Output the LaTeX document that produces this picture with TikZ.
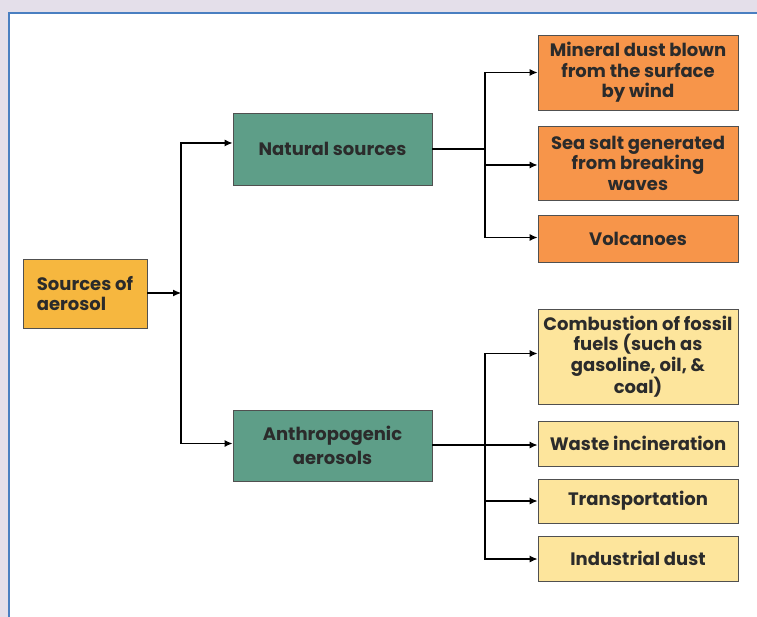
\documentclass[tikz,border=0pt]{standalone}
\usepackage{fontspec}
\setmainfont{Poppins}
\usetikzlibrary{arrows.meta}
\definecolor{bgl}{HTML}{E4DFEA}
\definecolor{frame}{HTML}{4A7FC1}
\definecolor{srcfill}{HTML}{F6B73F}
\definecolor{grn}{HTML}{5E9E88}
\definecolor{org}{HTML}{F7954A}
\definecolor{ylw}{HTML}{FDE59C}
\definecolor{edge}{HTML}{505050}
\definecolor{txt}{HTML}{2B2B2B}
\tikzset{
  box/.style={draw=edge, line width=0.9pt, rectangle, inner sep=2pt,
    font=\fontsize{18}{20.5}\selectfont\bfseries, text=txt, align=center},
  link/.style={line width=1.1pt, draw=black},
  arr/.style={link, -{Latex[length=8pt,width=7pt]}}
}
\begin{document}
\begin{tikzpicture}[x=1pt, y=-1pt]
  % page background and white panel
  \useasboundingbox (0,0) rectangle (757,617);
  \fill[bgl] (0,0) rectangle (757,617);
  \fill[white] (9,13) rectangle (770,630);
  \draw[frame, line width=2pt] (9,630) -- (9,13) -- (770,13);

  % root
  \node[box, fill=srcfill, minimum width=124pt, minimum height=69pt,
        align=left] (src) at (85,293.5) {Sources of\\aerosol};

  % main groups
  \node[box, fill=grn, minimum width=199pt, minimum height=72pt] (nat) at (332.5,149) {Natural sources};
  \node[box, fill=grn, minimum width=199pt, minimum height=71pt,
        font=\fontsize{18}{24}\selectfont\bfseries] (ant) at (332.5,445.5) {Anthropogenic\\aerosols};

  % natural sources
  \node[box, fill=org, minimum width=200pt, minimum height=75pt] (min) at (638,72.5) {Mineral dust blown\\from the surface\\by wind};
  \node[box, fill=org, minimum width=200pt, minimum height=74pt] (sea) at (638,163) {Sea salt generated\\from breaking\\waves};
  \node[box, fill=org, minimum width=200pt, minimum height=47pt] (vol) at (638,238.5) {Volcanoes};

  % anthropogenic sources
  \node[box, fill=ylw, minimum width=200pt, minimum height=95pt] (comb) at (638,356.5) {Combustion of fossil\\fuels (such as\\gasoline, oil, \&\\coal)};
  \node[box, fill=ylw, minimum width=200pt, minimum height=45pt] (waste) at (638,443.5) {Waste incineration};
  \node[box, fill=ylw, minimum width=200pt, minimum height=44pt] (trans) at (638,501) {Transportation};
  \node[box, fill=ylw, minimum width=200pt, minimum height=45pt] (ind) at (638,558.5) {Industrial dust};

  % junction points
  \coordinate (j1) at (181,293);
  \coordinate (j2) at (485,149);
  \coordinate (j3) at (485,445);

  % root to groups
  \draw[arr] (src.east |- j1) -- (j1);
  \draw[arr] (j1) |- ([yshift=6pt]nat.west);
  \draw[arr] (j1) |- ([yshift=2pt]ant.west);

  % natural branch
  \draw[link] (nat.east |- j2) -- (j2);
  \draw[arr] (j2) |- (min.west);
  \draw[arr] (j2) |- ([yshift=-2pt]sea.west);
  \draw[arr] (j2) |- ([yshift=1pt]vol.west);

  % anthropogenic branch
  \draw[link] (ant.east |- j3) -- (j3);
  \draw[arr] (j3) |- ([yshift=3pt]comb.west);
  \draw[arr] (j3) |- ([yshift=-1.5pt]waste.west);
  \draw[arr] (j3) |- (trans.west);
  \draw[arr] (j3) |- ([yshift=-0.5pt]ind.west);
\end{tikzpicture}
\end{document}
